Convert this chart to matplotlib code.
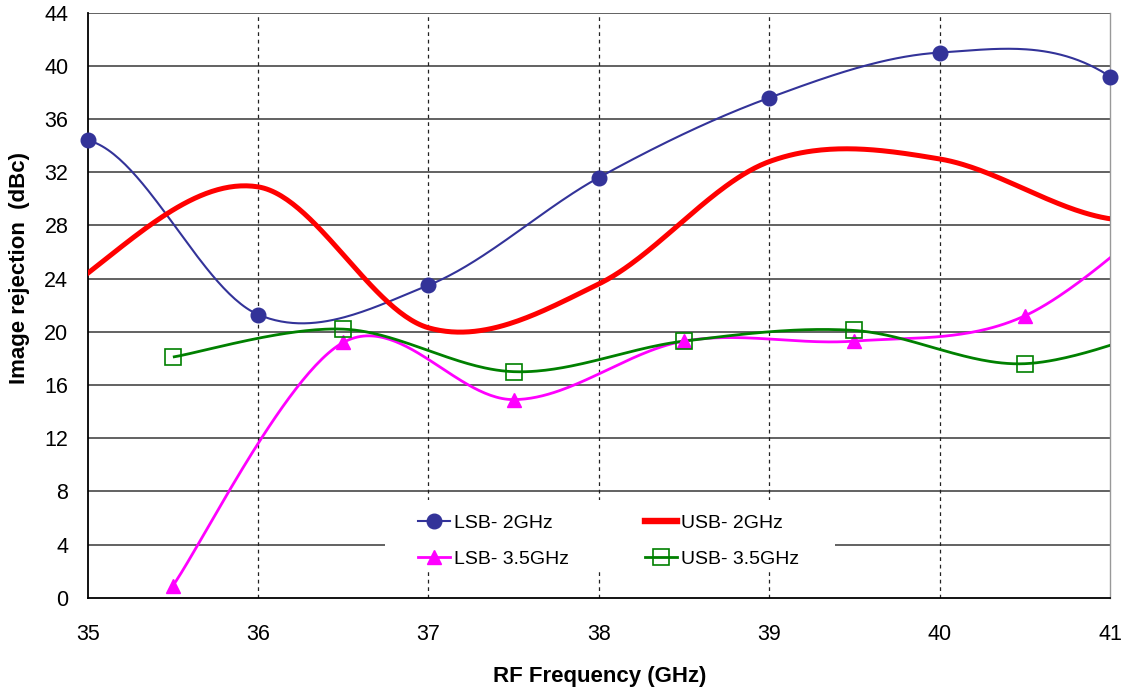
import numpy as np
import matplotlib
matplotlib.use("Agg")
import matplotlib.pyplot as plt
from matplotlib.lines import Line2D
from matplotlib.patches import Rectangle

plt.rcParams['font.family'] = ['Liberation Sans', 'DejaVu Sans']

# ---- data (off-axis points at 34 / 42 / 41.5 only shape the clipped curve ends) ----
freq_2g = [34, 35, 36, 37, 38, 39, 40, 41, 42]
lsb_2g = [27.3, 34.4, 21.3, 23.5, 31.6, 37.6, 41.0, 39.2, 24.2]
usb_2g = [10.9, 24.4, 30.9, 20.3, 23.6, 32.8, 33.0, 28.5, 29.0]

freq_35g = [35.5, 36.5, 37.5, 38.5, 39.5, 40.5, 41.5]
lsb_35g = [0.9, 19.2, 14.9, 19.3, 19.3, 21.2, 31.0]
usb_35g = [18.1, 20.2, 17.0, 19.3, 20.1, 17.6, 21.2]

x_ticks = [35, 36, 37, 38, 39, 40, 41]
y_ticks = [0, 4, 8, 12, 16, 20, 24, 28, 32, 36, 40, 44]

labels = ['LSB- 2GHz', 'USB- 2GHz', 'LSB- 3.5GHz', 'USB- 3.5GHz']
colors = ['#333399', '#FF0000', '#FF00FF', '#008000']


def smooth(xs, ys, n=60):
    """Excel-like smoothed line: cubic Bezier segments, Catmull-Rom control points."""
    P = np.column_stack([xs, ys]).astype(float)
    m = len(P)
    out = []
    t = np.linspace(0, 1, n)[:, None]
    for i in range(m - 1):
        p0 = P[i]
        p1 = P[i + 1]
        pm = P[i - 1] if i > 0 else P[i]
        pp = P[i + 2] if i + 2 < m else P[i + 1]
        c1 = p0 + (p1 - pm) / 6.0
        c2 = p1 - (pp - p0) / 6.0
        seg = ((1 - t) ** 3) * p0 + 3 * ((1 - t) ** 2) * t * c1 + 3 * (1 - t) * t ** 2 * c2 + t ** 3 * p1
        out.append(seg if i == 0 else seg[1:])
    c = np.vstack(out)
    return c[:, 0], c[:, 1]


fig = plt.figure(figsize=(11.25, 6.88), dpi=100)
ax = fig.add_axes([87.7 / 1125, 1 - 597.7 / 688, (1110 - 87.7) / 1125, (597.7 - 12.7) / 688])

xmin, xmax = 35, 41
ax.set_xlim(xmin, xmax)
ax.set_ylim(0, 44)
ax.set_xticks(x_ticks)
ax.set_yticks(y_ticks)
ax.tick_params(axis='both', length=0, labelsize=15.5)
ax.tick_params(axis='x', pad=19)
ax.tick_params(axis='y', pad=14)

ax.set_axisbelow(True)
for yv in y_ticks[1:]:
    ax.axhline(yv, color='#555555', lw=1.3, zorder=0.5)
for xv in x_ticks[1:-1]:
    ax.axvline(xv, color='#222222', lw=0.9, ls=(0, (3, 3)), zorder=0.5)

ax.spines['top'].set_visible(False)
ax.spines['right'].set_color('#999999')
ax.spines['right'].set_linestyle((0, (2, 1)))
ax.spines['right'].set_linewidth(1.0)
ax.spines['left'].set_linewidth(1.3)
ax.spines['bottom'].set_linewidth(1.3)

series = [
    (freq_2g, lsb_2g, colors[0], 1.5, 'o', dict(markersize=10.5, markerfacecolor=colors[0], markeredgecolor=colors[0])),
    (freq_2g, usb_2g, colors[1], 3.6, None, {}),
    (freq_35g, lsb_35g, colors[2], 2.0, '^', dict(markersize=10.5, markerfacecolor=colors[2], markeredgecolor=colors[2])),
    (freq_35g, usb_35g, colors[3], 2.0, 's', dict(markersize=11, markerfacecolor='none', markeredgecolor=colors[3], markeredgewidth=1.2)),
]

handles = []
for (xs, ys, col, lw, mk, mkw), lab in zip(series, labels):
    cx, cy = smooth(xs, ys)
    ax.plot(cx, cy, color=col, lw=lw, solid_capstyle='butt', zorder=3)
    if mk is not None:
        xa = np.array(xs, float)
        ya = np.array(ys, float)
        keep = (xa >= xmin) & (xa <= xmax)
        ax.plot(xa[keep], ya[keep], linestyle='none', marker=mk, clip_on=False, zorder=4, **mkw)
        handles.append(Line2D([], [], color=col, lw=lw, marker=mk, **mkw))
    else:
        handles.append(Line2D([], [], color=col, lw=lw + 1))

# legend background box
ax.add_patch(Rectangle((385 / 1125, 1 - 572 / 688), (835 - 385) / 1125, 72 / 688,
                       transform=fig.transFigure, facecolor='white', edgecolor='none', zorder=1))

# row-wise order for a 2-column legend (matplotlib fills columns first)
order = [0, 2, 1, 3]
ax.legend([handles[i] for i in order], [labels[i] for i in order], ncol=2, loc='upper left',
          bbox_to_anchor=(418 / 1125, 1 - 514 / 688), bbox_transform=fig.transFigure,
          frameon=False, fontsize=14, handlelength=1.65, handletextpad=0.2,
          columnspacing=3.9, labelspacing=0.95, borderpad=0, borderaxespad=0)

fig.text(600 / 1125, 6 / 688, 'RF Frequency (GHz)', ha='center', va='baseline',
         fontsize=16, fontweight='bold')
fig.text(20 / 1125, 1 - 268 / 688, 'Image rejection  (dBc)', ha='center', va='center',
         rotation=90, fontsize=16, fontweight='bold')

fig.savefig('out.png', dpi=100, facecolor='white')
